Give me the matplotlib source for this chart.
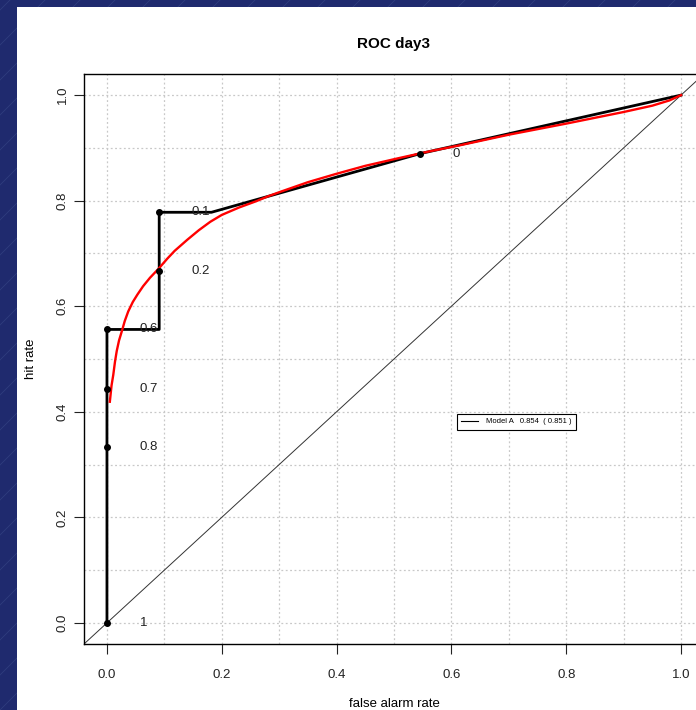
import matplotlib
matplotlib.use("Agg")
import matplotlib.pyplot as plt
from matplotlib.ticker import MultipleLocator
from matplotlib.lines import Line2D
from matplotlib.patches import Rectangle

plt.rcParams['font.family'] = ['Liberation Sans', 'DejaVu Sans']

# Empirical ROC path (false alarm rate, hit rate)
roc_far = [0.0, 0.0, 0.0, 0.0, 0.091, 0.091, 0.091, 0.182, 0.545, 1.0]
roc_hit = [0.0, 0.333, 0.444, 0.556, 0.556, 0.667, 0.778, 0.778, 0.889, 1.0]

# Labelled threshold points
thr_far = [0.0, 0.0, 0.0, 0.0, 0.091, 0.091, 0.545]
thr_hit = [0.0, 0.333, 0.444, 0.556, 0.667, 0.778, 0.889]
thr_labels = ["1", "0.8", "0.7", "0.6", "0.2", "0.1", "0"]

# Fitted (binormal) ROC curve
fit_far = [0.005, 0.008, 0.011, 0.014, 0.017, 0.021, 0.026, 0.031, 0.037, 0.045,
           0.053, 0.063, 0.075, 0.089, 0.105, 0.118, 0.14, 0.16, 0.18, 0.20,
           0.23, 0.26, 0.28, 0.30, 0.35, 0.40, 0.45, 0.51, 0.56, 0.615,
           0.70, 0.80, 0.90, 0.95, 0.98, 1.0]
fit_hit = [0.419, 0.450, 0.470, 0.495, 0.515, 0.535, 0.553, 0.572, 0.590, 0.608,
           0.622, 0.638, 0.654, 0.670, 0.690, 0.705, 0.726, 0.744, 0.760, 0.773,
           0.787, 0.799, 0.808, 0.816, 0.835, 0.851, 0.866, 0.881, 0.893, 0.905,
           0.925, 0.946, 0.968, 0.980, 0.990, 1.0]

legend_text = "Model A   0.854  ( 0.851 )"
title = "ROC day3"
xlabel = "false alarm rate"
ylabel = "hit rate"
ticks = [0.0, 0.2, 0.4, 0.6, 0.8, 1.0]

W, H = 696, 710
fig = plt.figure(figsize=(W / 100, H / 100), dpi=100, facecolor="#1f2a6e")

# slide background: faint diagonal lines and white panel
for k in range(-30, 40):
    x0 = k * 35
    fig.add_artist(Line2D([x0 / W, (x0 + 720) / W], [0, 720 / H],
                          transform=fig.transFigure, color="#3a4888", lw=0.6, alpha=0.6, zorder=-3))
fig.add_artist(Rectangle((17 / W, 0), 1, (H - 7) / H, transform=fig.transFigure,
                         facecolor="white", edgecolor="none", zorder=-2))

ax = fig.add_axes([84 / W, 66 / H, 620 / W, 570 / H])
ax.set_xlim(-0.04, 1.04)
ax.set_ylim(-0.04, 1.04)
ax.set_facecolor("none")

ax.xaxis.set_minor_locator(MultipleLocator(0.1))
ax.yaxis.set_minor_locator(MultipleLocator(0.1))
ax.set_xticks(ticks)
ax.set_yticks(ticks)
ax.set_xticklabels([f"{t:.1f}" for t in ticks])
ax.set_yticklabels([f"{t:.1f}" for t in ticks], rotation=90, va="center")
ax.grid(which="both", color="#c8c8c8", linestyle=(0, (1.5, 2)), lw=0.9)
ax.tick_params(which="minor", length=0)
ax.tick_params(which="major", length=7, width=0.8, labelsize=9.5, colors="#222222")
ax.tick_params(axis="x", pad=11)
ax.tick_params(axis="y", pad=4)
for s in ax.spines.values():
    s.set_linewidth(1.0)
    s.set_color("black")

ax.plot([-0.04, 1.04], [-0.04, 1.04], color="#333333", lw=0.7)
ax.plot(roc_far, roc_hit, color="black", lw=2.0, zorder=4)
ax.plot(thr_far, thr_hit, "o", color="black", ms=4, zorder=5)
ax.plot(fit_far, fit_hit, color="red", lw=1.7, zorder=4.5)
for fx, hy, lab in zip(thr_far, thr_hit, thr_labels):
    ax.text(fx + 0.057, hy, lab, ha="left", va="center", fontsize=9.5, color="#222222", zorder=6)

ax.set_title(title, fontsize=11, fontweight="bold", pad=19)
ax.set_xlabel(xlabel, fontsize=9.5, labelpad=12)
ax.set_ylabel(ylabel, fontsize=9.5, labelpad=14)

leg = ax.legend([Line2D([], [], color="black", lw=0.8)], [legend_text],
                loc="center", bbox_to_anchor=(0.713, 0.381), bbox_transform=ax.transData,
                fontsize=5.5, fancybox=False, framealpha=1, edgecolor="black",
                handlelength=2.2, borderpad=0.6, handletextpad=1.0)
leg.get_frame().set_linewidth(0.8)

fig.savefig("out.png", dpi=100, facecolor=fig.get_facecolor())
